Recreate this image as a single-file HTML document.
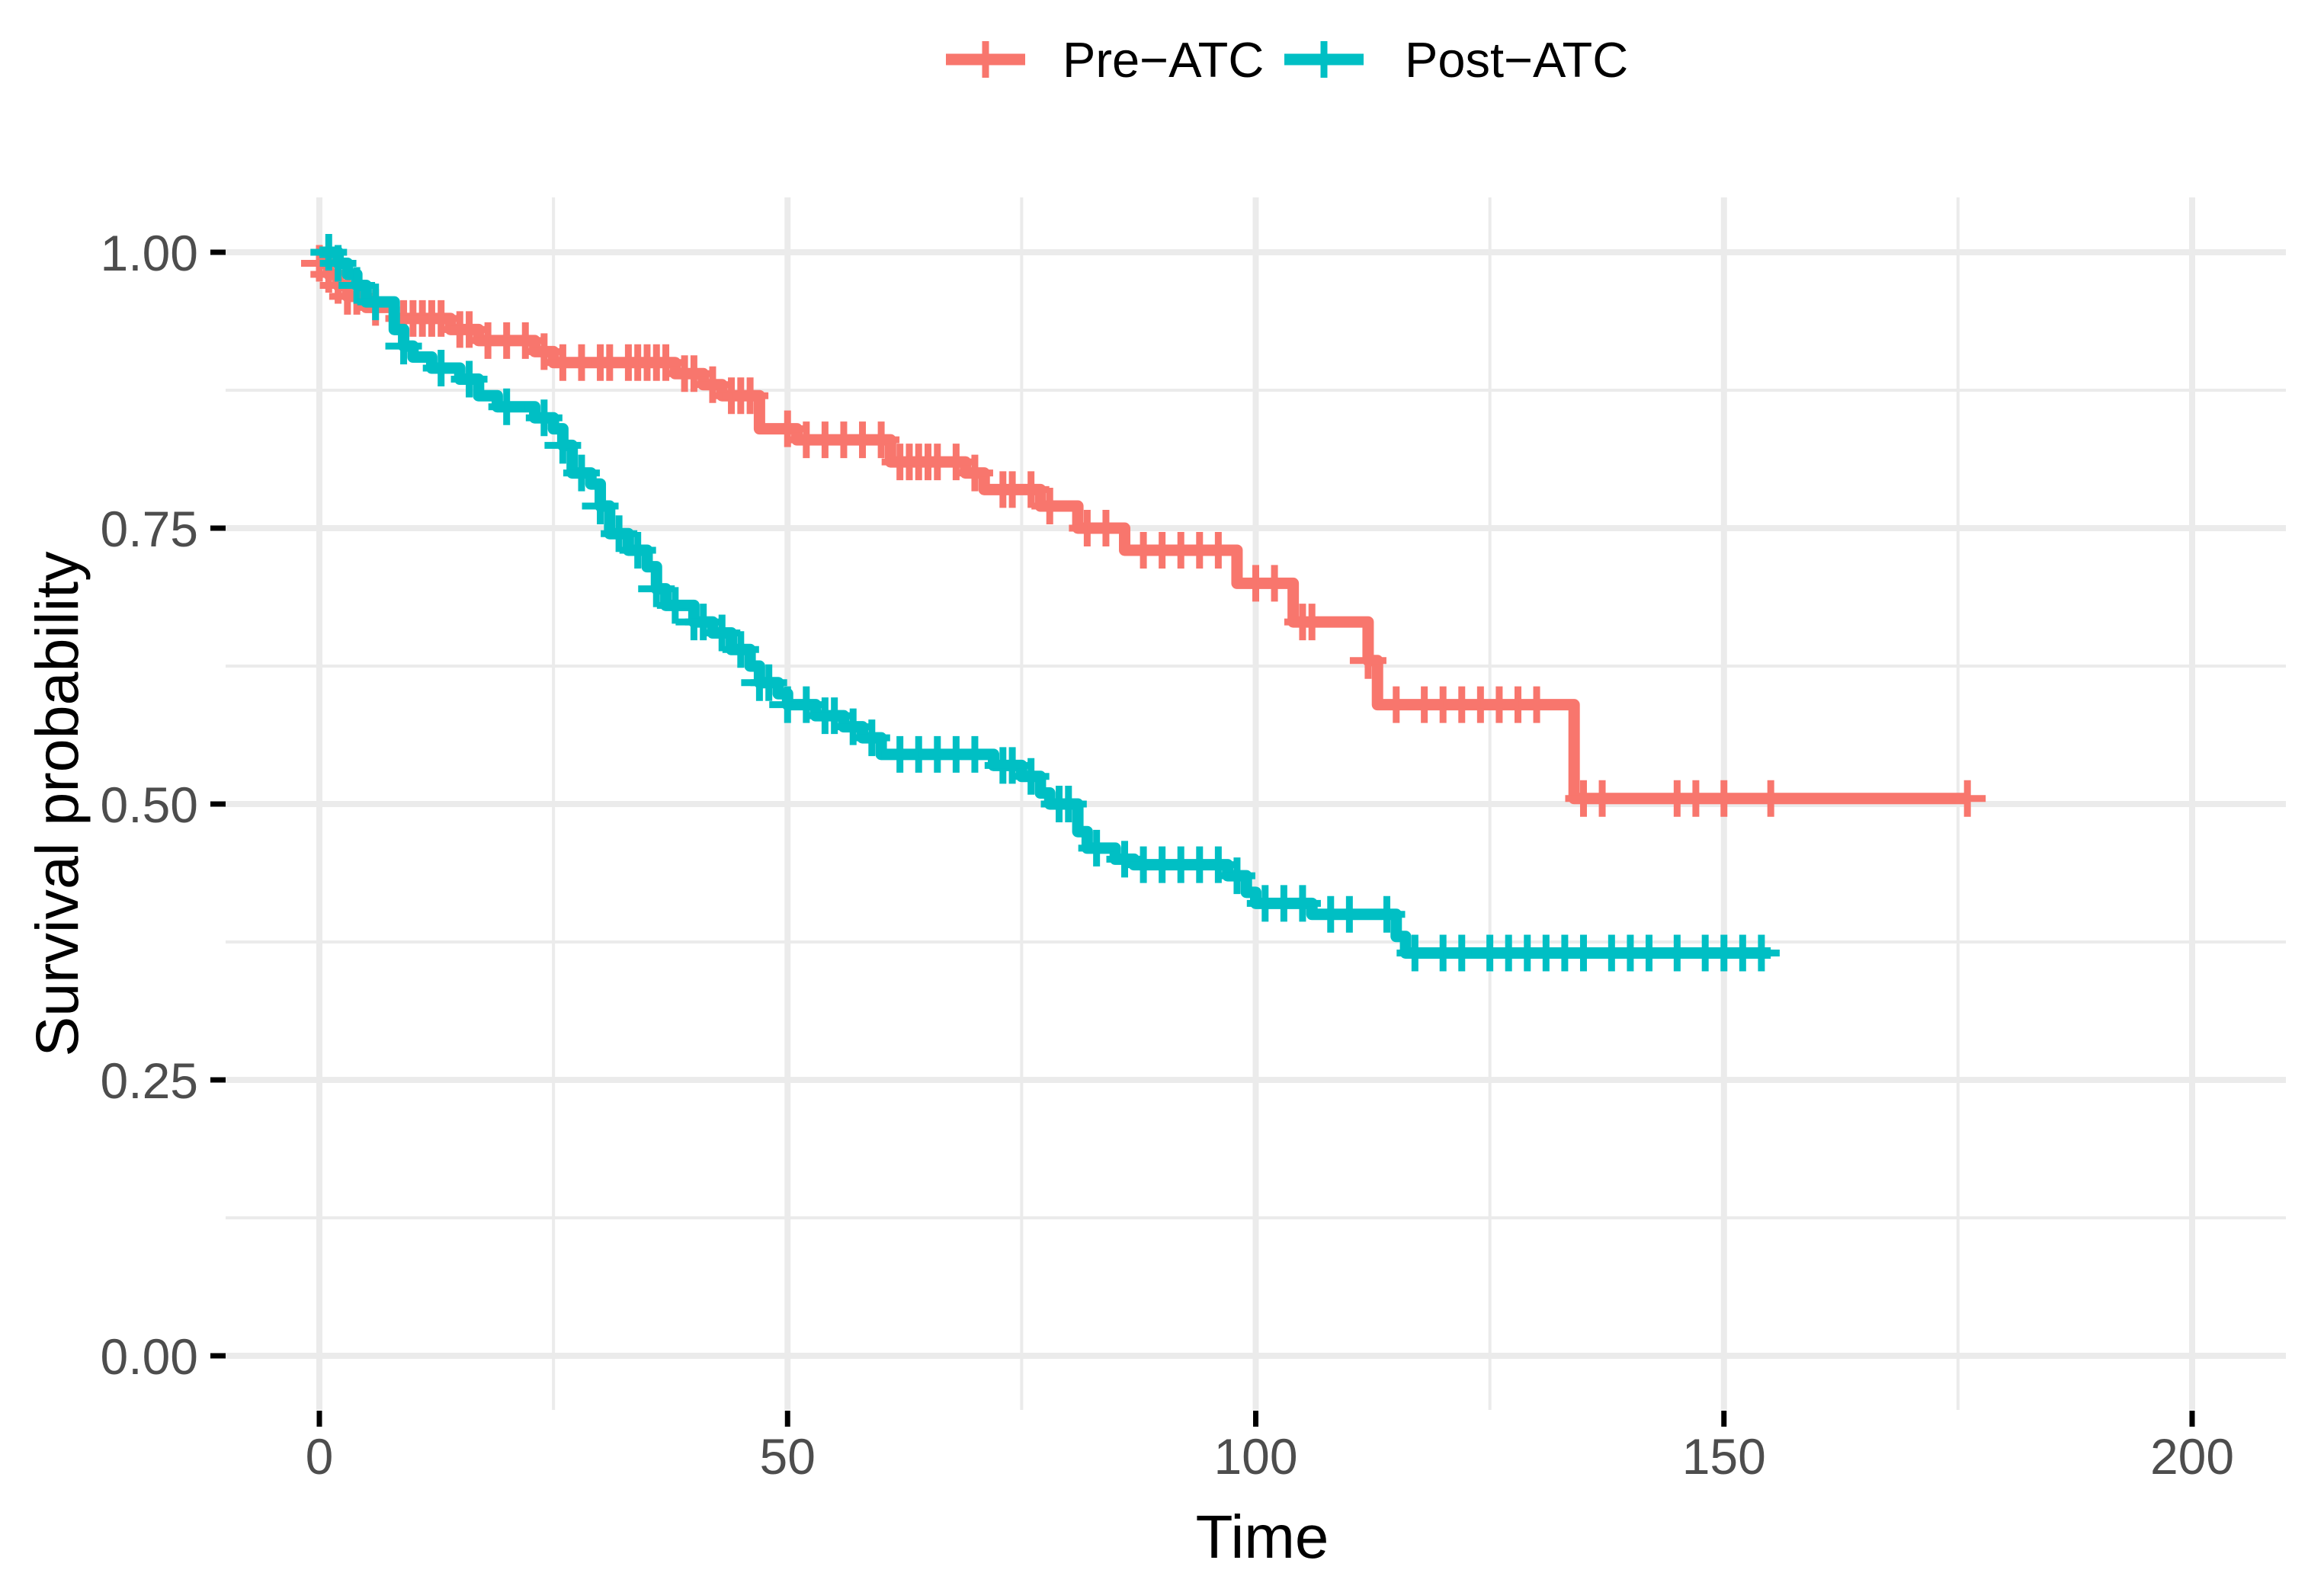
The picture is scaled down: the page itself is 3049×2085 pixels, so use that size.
<!DOCTYPE html>
<html><head><meta charset="utf-8"><style>
html,body{margin:0;padding:0;background:#fff;}
svg{display:block;font-family:"Liberation Sans",Arial,sans-serif;}
</style></head><body>
<svg id="chart" width="3049" height="2085" viewBox="0 0 3049 2085" xmlns="http://www.w3.org/2000/svg">
<rect width="3049" height="2085" fill="#fff"/>
<g id="grid"></g>
<g id="axes"></g>
<g id="series"></g>
<text x="1656" y="2044" font-size="80" text-anchor="middle" fill="#000">Time</text>
<text transform="translate(102,1055) rotate(-90)" font-size="79" text-anchor="middle" fill="#000">Survival probability</text>
<g>
  <g>
    <line x1="1241" y1="78" x2="1345" y2="78" stroke="#F8766D" stroke-width="15"/>
    <line x1="1293" y1="54" x2="1293" y2="102" stroke="#F8766D" stroke-width="9"/>
    <text x="1394" y="101" font-size="65" fill="#000">Pre−ATC</text>
  </g>
  <g>
    <line x1="1685" y1="78" x2="1789" y2="78" stroke="#00BFC4" stroke-width="15"/>
    <line x1="1737" y1="54" x2="1737" y2="102" stroke="#00BFC4" stroke-width="9"/>
    <text x="1843" y="101" font-size="65" fill="#000">Post−ATC</text>
  </g>
</g>
</svg>
<script>
const xTicks = [0, 50, 100, 150, 200];
const yTicks = [0, 0.25, 0.5, 0.75, 1];
const yTickLabels = ["0.00", "0.25", "0.50", "0.75", "1.00"];
const preTimes = [0,1,2,3,5,8,14,17,23,25,38,41,43,47,51,61,69,71,77,81,86,98,104,112,113,134,176];
const preSurv = [0.99,0.98,0.97,0.96,0.95,0.94,0.93,0.92,0.91,0.90,0.89,0.88,0.87,0.84,0.83,0.81,0.80,0.785,0.77,0.75,0.73,0.70,0.665,0.63,0.59,0.505,0.505];
const preCensor = [0,1,2,3,4,6,9,10,11,12,13,15,16,18,20,22,24,26,28,30,31,33,34,35,36,37,39,40,42,44,45,46,50,52,54,56,58,60,62,63,64,65,66,68,70,73,74,76,78,82,84,88,90,92,94,96,100,102,105,106,112,115,118,120,122,124,126,128,130,135,137,145,147,150,155,176];
const postTimes = [0,2,3,4,5,8,9,10,12,15,17,19,23,25,26,27,29,30,31,33,35,36,37,40,42,44,46,47,49,50,53,56,58,60,72,75,77,78,81,82,85,87,97,99,100,106,115,116,155];
const postSurv = [1.0,0.99,0.98,0.97,0.955,0.93,0.915,0.905,0.895,0.885,0.87,0.86,0.85,0.84,0.825,0.80,0.79,0.77,0.745,0.73,0.715,0.695,0.68,0.665,0.655,0.64,0.625,0.61,0.60,0.59,0.58,0.57,0.56,0.545,0.535,0.525,0.51,0.50,0.475,0.46,0.45,0.445,0.435,0.42,0.41,0.40,0.38,0.365,0.365];
const postCensor = [1,2,4,6,9,13,16,20,24,26,28,30,32,34,36,38,40,41,43,45,47,48,50,52,54,55,57,59,62,64,66,68,70,73,74,76,79,80,83,86,88,90,92,94,96,98,101,103,105,108,110,114,117,120,122,125,127,129,131,133,135,138,140,142,145,148,150,152,154];

const X0 = 419, XS = (2876 - 419) / 200;
const Y0 = 1779, YS = 1779 - 331;
const PL = 296, PR = 2999, PT = 259, PB = 1850;
const sx = t => X0 + t * XS;
const sy = v => Y0 - v * YS;
const NS = "http://www.w3.org/2000/svg";
function mk(tag, attrs, parent) {
  const el = document.createElementNS(NS, tag);
  for (const k in attrs) el.setAttribute(k, attrs[k]);
  parent.appendChild(el);
  return el;
}
const grid = document.getElementById('grid');
const axes = document.getElementById('axes');
const series = document.getElementById('series');

for (let i = 0; i < xTicks.length - 1; i++) {
  const m = (xTicks[i] + xTicks[i + 1]) / 2;
  const el = mk('line', {x1: sx(m), x2: sx(m), y1: PT, y2: PB, stroke: '#ebebeb', 'stroke-width': 4}, grid);
  
  
}
for (let i = 0; i < yTicks.length - 1; i++) {
  const m = (yTicks[i] + yTicks[i + 1]) / 2;
  const el = mk('line', {x1: PL, x2: PR, y1: sy(m), y2: sy(m), stroke: '#ebebeb', 'stroke-width': 4}, grid);
  
  
}
xTicks.forEach(t => {
  const g = mk('line', {x1: sx(t), x2: sx(t), y1: PT, y2: PB, stroke: '#ebebeb', 'stroke-width': 8}, grid);
  
  
  const tk = mk('line', {x1: sx(t), x2: sx(t), y1: 1851, y2: 1872, stroke: '#000', 'stroke-width': 7}, axes);
  
  
  const lb = mk('text', {x: sx(t), y: 1934, 'font-size': 66, 'text-anchor': 'middle', fill: '#4d4d4d'}, axes);
  lb.textContent = String(t);
  
  
});
yTicks.forEach((v, i) => {
  const g = mk('line', {x1: PL, x2: PR, y1: sy(v), y2: sy(v), stroke: '#ebebeb', 'stroke-width': 8}, grid);
  
  
  const tk = mk('line', {x1: 276, x2: 296, y1: sy(v), y2: sy(v), stroke: '#000', 'stroke-width': 7}, axes);
  
  
  const lb = mk('text', {x: 260, y: sy(v) + 24, 'font-size': 66, 'text-anchor': 'end', fill: '#4d4d4d'}, axes);
  lb.textContent = yTickLabels[i];
  
  
});

function survAt(times, surv, t) {
  let v = surv[0];
  for (let i = 0; i < times.length; i++) if (times[i] <= t) v = surv[i];
  return v;
}
function drawSeries(times, surv, censor, color, name) {
  let d = 'M' + sx(times[0]) + ',' + sy(surv[0]);
  for (let i = 1; i < times.length; i++) {
    d += ' H' + sx(times[i]) + ' V' + sy(surv[i]);
  }
  const p = mk('path', {d: d, fill: 'none', stroke: color, 'stroke-width': 15, 'stroke-linejoin': 'round'}, series);
  
  
  censor.forEach(t => {
    const v = survAt(times, surv, t);
    const c = mk('path', {d: 'M' + sx(t) + ',' + (sy(v) - 24) + ' V' + (sy(v) + 24) + ' M' + (sx(t) - 24) + ',' + sy(v) + ' H' + (sx(t) + 24), stroke: color, 'stroke-width': 9, fill: 'none'}, series);
    
    
  });
}
drawSeries(preTimes, preSurv, preCensor, '#F8766D', 'pre-atc');
drawSeries(postTimes, postSurv, postCensor, '#00BFC4', 'post-atc');
</script>
</body></html>
